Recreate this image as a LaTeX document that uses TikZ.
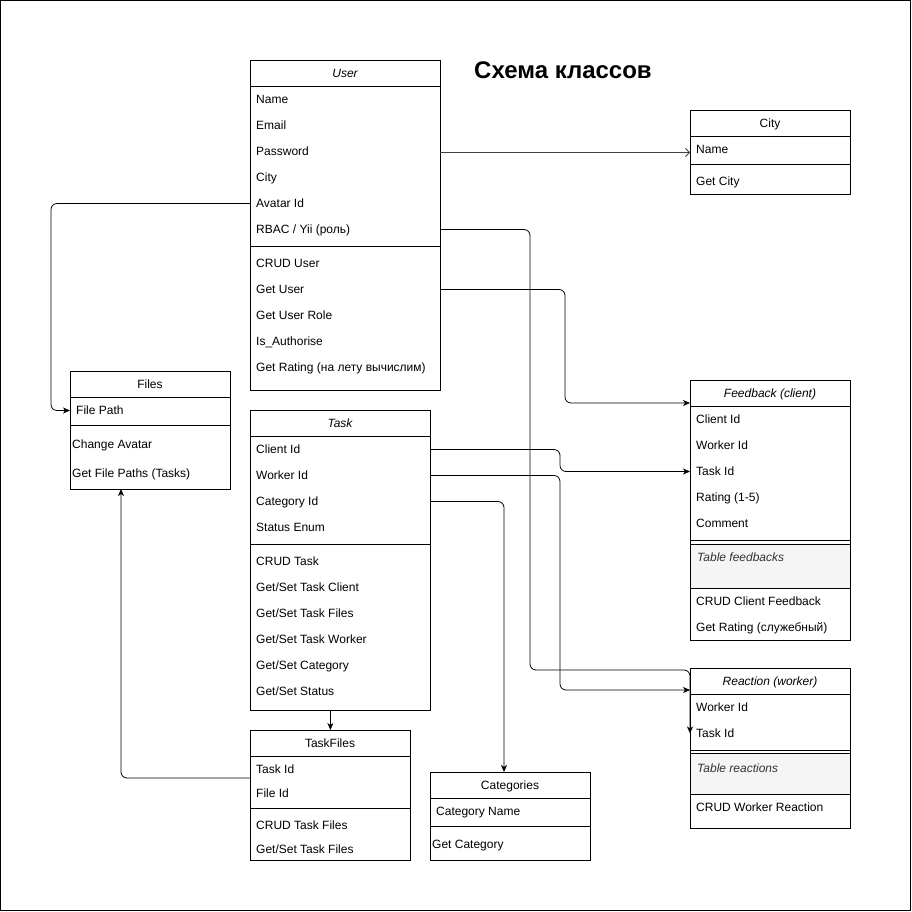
\documentclass[tikz,border=0pt]{standalone}
\usepackage{fontspec}
\setmainfont{Liberation Sans}
\usetikzlibrary{arrows.meta}
\definecolor{grayfill}{HTML}{F5F5F5}
\definecolor{graydraw}{HTML}{666666}
\definecolor{graytext}{HTML}{333333}
\tikzset{
  box/.style={draw=black, line width=0.8pt, anchor=north west, inner sep=0pt},
  grayband/.style={draw=graydraw, fill=grayfill, line width=0.8pt, anchor=north west, inner sep=0pt},
  row/.style={anchor=west, inner sep=0pt, text height=8.6pt, text depth=0pt, font=\fontsize{12}{14}\selectfont},
  hdr/.style={anchor=center, inner sep=0pt, text height=8.6pt, text depth=0pt, font=\fontsize{12}{14}\selectfont},
  ihdr/.style={hdr, font=\fontsize{12}{14}\selectfont\itshape},
  grayrow/.style={row, text=graytext, font=\fontsize{12}{14}\selectfont\itshape},
  sep/.style={line width=0.8pt},
  conn/.style={draw=black, line width=0.8pt, rounded corners=6pt, -{Stealth[length=7pt,width=6pt,inset=2pt]}},
  openconn/.style={draw=black!75, line width=0.8pt, -{Straight Barb[length=4pt,width=8pt]}},
}
\begin{document}
\begin{tikzpicture}[x=1pt,y=-1pt]
\useasboundingbox (0,0) rectangle (912,912);
\draw[line width=0.8pt] (0.5,0.5) rectangle (910.5,910.5);

% title
\node[inner sep=0pt, font=\fontsize{24}{28}\selectfont\bfseries] (title) at (563,70) {Схема классов};

% ---------- User ----------
\node[box, minimum width=190pt, minimum height=330pt] (user) at (250,60) {};
\draw[sep] (250,86) -- (440,86);
\draw[sep] (250,246) -- (440,246);
\node[ihdr] (uH) at (345,73) {User};
\node[row] (uName) at (256,99.5) {Name};
\node[row] (uEmail) at (256,125.5) {Email};
\node[row] (uPass) at (256,151.5) {Password};
\node[row] (uCity) at (256,177.5) {City};
\node[row] (uAvatar) at (256,203.5) {Avatar Id};
\node[row] (uRBAC) at (256,229.5) {RBAC / Yii (роль)};
\node[row] (uCrud) at (256,263.5) {CRUD User};
\node[row] (uGet) at (256,289.5) {Get User};
\node[row] (uRole) at (256,315.5) {Get User Role};
\node[row] (uAuth) at (256,341.5) {Is\_Authorise};
\node[row] (uRating) at (256,367.5) {Get Rating (на лету вычислим)};

% ---------- City ----------
\node[box, minimum width=160pt, minimum height=84pt] (city) at (690,110) {};
\draw[sep] (690,136) -- (850,136);
\draw[sep] (690,164) -- (850,164);
\node[hdr] (cH) at (770,123.5) {City};
\node[row] (cName) at (696,149.5) {Name};
\node[row] (cGet) at (696,181.5) {Get City};

% ---------- Files ----------
\node[box, minimum width=160pt, minimum height=118pt] (files) at (70,371) {};
\draw[sep] (70,397) -- (230,397);
\draw[sep] (70,425.5) -- (230,425.5);
\node[hdr] (fH) at (150,384.5) {Files};
\node[row] (fPath) at (76,410.5) {File Path};
\node[row] (fAvatar) at (72,444) {Change Avatar};
\node[row] (fGet) at (72,473) {Get File Paths (Tasks)};

% ---------- Task ----------
\node[box, minimum width=180pt, minimum height=300pt] (task) at (250,410) {};
\draw[sep] (250,436) -- (430,436);
\draw[sep] (250,544.5) -- (430,544.5);
\node[ihdr] (tH) at (340,423.5) {Task};
\node[row] (tClient) at (256,449.5) {Client Id};
\node[row] (tWorker) at (256,475.5) {Worker Id};
\node[row] (tCat) at (256,501.5) {Category Id};
\node[row] (tStatus) at (256,527.5) {Status Enum};
\node[row] (tCrud) at (256,561.5) {CRUD Task};
\node[row] (tSClient) at (256,587.5) {Get/Set Task Client};
\node[row] (tSFiles) at (256,613.5) {Get/Set Task Files};
\node[row] (tSWorker) at (256,639.5) {Get/Set Task Worker};
\node[row] (tSCat) at (256,665.5) {Get/Set Category};
\node[row] (tSStatus) at (256,691.5) {Get/Set Status};

% ---------- TaskFiles ----------
\node[box, minimum width=160pt, minimum height=130pt] (tf) at (250,730) {};
\draw[sep] (250,756) -- (410,756);
\draw[sep] (250,808) -- (410,808);
\node[hdr] (tfH) at (330,743.5) {TaskFiles};
\node[row] (tfTask) at (256,769.5) {Task Id};
\node[row] (tfFile) at (256,793.5) {File Id};
\node[row] (tfCrud) at (256,825.5) {CRUD Task Files};
\node[row] (tfSet) at (256,849.5) {Get/Set Task Files};

% ---------- Categories ----------
\node[box, minimum width=160pt, minimum height=88pt] (cat) at (430,772) {};
\draw[sep] (430,798) -- (590,798);
\draw[sep] (430,826.5) -- (590,826.5);
\node[hdr] (catH) at (510,785.5) {Categories};
\node[row] (catName) at (436,811.5) {Category Name};
\node[row] (catGet) at (432,844.5) {Get Category};

% ---------- Feedback ----------
\node[grayband, minimum width=160pt, minimum height=44pt] (fbTable) at (690,544) {};
\node[box, minimum width=160pt, minimum height=260pt] (fb) at (690,380) {};
\draw[sep] (690,406) -- (850,406);
\draw[sep] (690,540.5) -- (850,540.5);
\draw[sep] (690,544) -- (850,544);
\draw[sep] (690,588) -- (850,588);
\node[ihdr] (fbH) at (770,393.5) {Feedback (client)};
\node[row] (fbClient) at (696,419.5) {Client Id};
\node[row] (fbWorker) at (696,445.5) {Worker Id};
\node[row] (fbTask) at (696,471.5) {Task Id};
\node[row] (fbRating) at (696,497.5) {Rating (1-5)};
\node[row] (fbComment) at (696,523.5) {Comment};
\node[grayrow] (fbTab) at (697,557) {Table feedbacks};
\node[row] (fbCrud) at (696,601.5) {CRUD Client Feedback};
\node[row] (fbGet) at (696,627.5) {Get Rating (служебный)};

% ---------- Reaction ----------
\node[grayband, minimum width=160pt, minimum height=41pt] (reTable) at (690,753) {};
\node[box, minimum width=160pt, minimum height=160pt] (re) at (690,668) {};
\draw[sep] (690,694) -- (850,694);
\draw[sep] (690,750.5) -- (850,750.5);
\draw[sep] (690,753) -- (850,753);
\draw[sep] (690,794) -- (850,794);
\node[ihdr] (reH) at (770,681.5) {Reaction (worker)};
\node[row] (reWorker) at (696,707.5) {Worker Id};
\node[row] (reTask) at (696,733.5) {Task Id};
\node[grayrow] (reTab) at (697,768) {Table reactions};
\node[row] (reCrud) at (696,807.5) {CRUD Worker Reaction};

% ---------- connector bend points ----------
\coordinate (cityOut) at (440,152.5);
\coordinate (cityIn) at (690,152.5);
\coordinate (bAv) at (51,300);
\coordinate (bGU) at (565,340);
\coordinate (fbIn) at (690,403);
\coordinate (bCl) at (560,460);
\coordinate (bWk) at (560,600);
\coordinate (reIn) at (690,690);
\coordinate (bRB) at (530,450);
\coordinate (reTop) at (690,670);
\coordinate (bCat) at (504,600);
\coordinate (catIn) at (504,772);
\coordinate (bTF) at (121,600);
\coordinate (filesIn) at (121,489);
\coordinate (tfOut) at (250,778);

% ---------- connectors ----------
\draw[openconn] (cityOut) -- (cityIn);
\draw[conn] (user.west |- uAvatar) -| (bAv) |- (files.west |- fPath);
\draw[conn] (user.east |- uGet) -| (bGU) |- (fbIn);
\draw[conn] (task.east |- tClient) -| (bCl) |- (fb.west |- fbTask);
\draw[conn] (task.east |- tWorker) -| (bWk) |- (reIn);
\draw[conn] (user.east |- uRBAC) -| (bRB) |- (reTop) -- (re.west |- reTask);
\draw[conn] (task.east |- tCat) -| (bCat) -- (catIn);
\draw[conn] (task.south -| tf.north) -- (tf.north);
\draw[conn] (tfOut) -| (bTF) -- (filesIn);
\end{tikzpicture}
\end{document}
